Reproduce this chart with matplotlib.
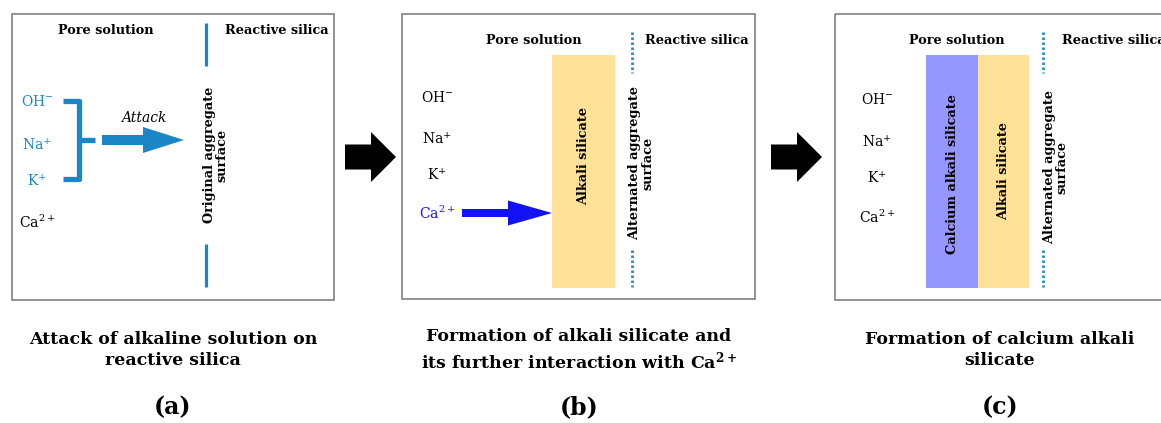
import matplotlib

matplotlib.use("Agg")
import matplotlib.pyplot as plt
from matplotlib.patches import Polygon, Rectangle

plt.rcParams.update({
    "font.family": ["DejaVu Serif"],
    "mathtext.fontset": "dejavuserif",
})

# schematic content
ions = [r"OH$^{-}$", r"Na$^{+}$", r"K$^{+}$", r"Ca$^{2+}$"]
ion_colors_a = ["#1B86C6", "#1B86C6", "#1B86C6", "black"]
ion_colors_b = ["black", "black", "black", "#1212F5"]
ion_colors_c = ["black", "black", "black", "black"]
captions = [
    "Attack of alkaline solution on\nreactive silica",
    "Formation of alkali silicate and\nits further interaction with Ca$^{\\mathbf{2+}}$",
    "Formation of calcium alkali\nsilicate",
]
panel_tags = ["(a)", "(b)", "(c)"]
layers_b = ["Alkali silicate"]
layers_c = ["Calcium alkali silicate", "Alkali silicate"]

BLUE = "#1B86C6"
DOT_BLUE = "#2A8BCB"
PURE_BLUE = "#1212F5"
YELLOW = "#FFE197"
PURPLE = "#9696FF"
EDGE = "#808080"

HEAD_FS = 9.3
ION_FS = 10
ROT_FS = 9.3

fig = plt.figure(figsize=(11.61, 4.23), dpi=100)
ax = fig.add_axes([0, 0, 1, 1])
ax.set_xlim(0, 1161)
ax.set_ylim(423, 0)
ax.axis("off")


def block_arrow(x0, tip, y, shaft_h, head_h, head_len, color):
    xs = tip - head_len
    pts = [
        (x0, y - shaft_h / 2), (xs, y - shaft_h / 2), (xs, y - head_h / 2),
        (tip, y), (xs, y + head_h / 2), (xs, y + shaft_h / 2), (x0, y + shaft_h / 2),
    ]
    ax.add_patch(Polygon(pts, closed=True, fc=color, ec="none", zorder=3))


def panel_box(x0, y0, x1, y1):
    ax.add_patch(Rectangle((x0, y0), x1 - x0, y1 - y0, fill=False, ec=EDGE, lw=1.2, zorder=1))


def rot_label(x, y, s, fs=ROT_FS):
    ax.text(x, y, s, rotation=90, ha="center", va="center", multialignment="center",
            fontsize=fs, fontweight="bold", linespacing=1.0, zorder=4)


def header(x, y, s, ha="center"):
    ax.text(x, y, s, ha=ha, va="center", fontsize=HEAD_FS, fontweight="bold")


def ion_column(x, ys, colors):
    for s, yy, c in zip(ions, ys, colors):
        ax.text(x, yy, s, ha="center", va="center", fontsize=ION_FS, color=c, zorder=4)


# panel boxes
panel_box(12, 14, 334, 300)
panel_box(402, 14, 755, 299)
panel_box(835, 14, 1200, 300)

# ---------- panel (a)
header(106, 30, "Pore solution")
header(277, 30, "Reactive silica")
ax.plot([206, 206], [23, 66], color=BLUE, lw=2.3, solid_capstyle="butt")
ax.plot([206, 206], [244, 287], color=BLUE, lw=2.3, solid_capstyle="butt")
rot_label(216, 155, "Original aggregate\nsurface")
ion_column(37, [102, 145, 181, 222], ion_colors_a)
ax.plot([63, 79, 79, 63], [101, 101, 179, 179], color=BLUE, lw=3.8,
        solid_joinstyle="round", solid_capstyle="butt")
ax.plot([79, 95], [140, 140], color=BLUE, lw=3.8, solid_capstyle="butt")
block_arrow(102, 184, 140, 10, 26, 41, BLUE)
ax.text(144, 118, "Attack", ha="center", va="center", fontsize=10, style="italic")

# ---------- panel (b)
header(534, 40, "Pore solution")
header(697, 40, "Reactive silica")
ax.add_patch(Rectangle((552, 55), 63, 233, fc=YELLOW, ec="none", zorder=2))
rot_label(584, 156, layers_b[0])
for y0, y1 in [(32, 73), (250, 287)]:
    ax.plot([632, 632], [y0, y1], color=DOT_BLUE, lw=2.0, dashes=(0.9, 0.9))
rot_label(641, 163, "Alternated aggregate\nsurface")
ion_column(437, [97, 139, 175, 213], ion_colors_b)
block_arrow(462, 552, 213, 8, 25, 44, PURE_BLUE)

# ---------- panel (c)
header(957, 40, "Pore solution")
header(1062, 40, "Reactive silica", ha="left")
ax.add_patch(Rectangle((926, 55), 52, 233, fc=PURPLE, ec="none", zorder=2))
ax.add_patch(Rectangle((978, 55), 51, 233, fc=YELLOW, ec="none", zorder=2))
rot_label(952, 174, layers_c[0])
rot_label(1004, 171, layers_c[1])
for y0, y1 in [(32, 73), (250, 287)]:
    ax.plot([1043, 1043], [y0, y1], color=DOT_BLUE, lw=2.0, dashes=(0.9, 0.9))
rot_label(1056, 167, "Alternated aggregate\nsurface")
ion_column(877, [100, 142, 178, 217], ion_colors_c)

# ---------- between-panel arrows
block_arrow(345, 396, 157, 25, 50, 25, "black")
block_arrow(771, 822, 157, 25, 50, 25, "black")

# ---------- captions
for cx, cap, tag in zip([173, 579, 1000], captions, panel_tags):
    ax.text(cx, 350, cap, ha="center", va="center", fontsize=12.5, fontweight="bold",
            linespacing=1.3)
    ax.text(cx, 407, tag, ha="center", va="center", fontsize=17, fontweight="bold")

fig.savefig("out.png", dpi=100)
